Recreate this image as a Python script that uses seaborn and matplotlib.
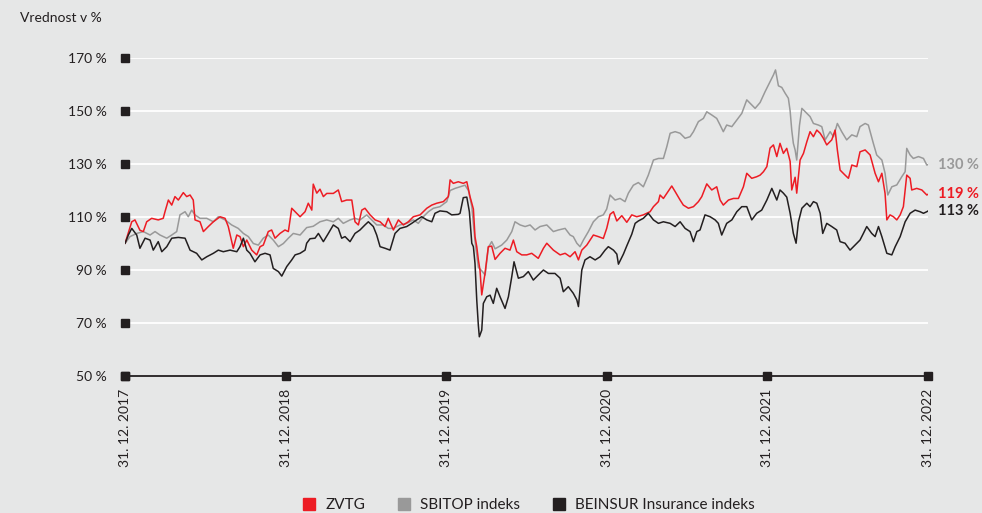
import numpy as np
import pandas as pd
import matplotlib
matplotlib.use("Agg")
import matplotlib.pyplot as plt
from matplotlib.lines import Line2D
import seaborn as sns

# time in years after 31. 12. 2017, values in %
t_zvtg = [0.000, 0.042, 0.062, 0.093, 0.114, 0.135, 0.166, 0.207, 0.238, 0.249, 0.270, 0.291, 0.311, 0.332,
          0.363, 0.384, 0.405, 0.425, 0.436, 0.467, 0.488, 0.519, 0.550, 0.592, 0.623, 0.643, 0.674, 0.696,
          0.716, 0.737, 0.758, 0.789, 0.820, 0.841, 0.861, 0.892, 0.913, 0.934, 0.965, 0.996, 1.017, 1.038,
          1.069, 1.090, 1.121, 1.141, 1.163, 1.172, 1.194, 1.214, 1.235, 1.256, 1.297, 1.328, 1.349, 1.380,
          1.412, 1.432, 1.453, 1.474, 1.494, 1.526, 1.557, 1.588, 1.619, 1.639, 1.671, 1.702, 1.733, 1.764,
          1.795, 1.837, 1.879, 1.910, 1.941, 1.982, 2.013, 2.024, 2.044, 2.075, 2.106, 2.128, 2.148, 2.169,
          2.179, 2.190, 2.200, 2.210, 2.221, 2.242, 2.262, 2.283, 2.304, 2.335, 2.366, 2.397, 2.418, 2.439,
          2.470, 2.501, 2.532, 2.573, 2.605, 2.626, 2.667, 2.709, 2.740, 2.771, 2.802, 2.823, 2.844, 2.875,
          2.916, 2.947, 2.978, 2.999, 3.020, 3.041, 3.062, 3.093, 3.124, 3.155, 3.186, 3.227, 3.269, 3.290,
          3.321, 3.331, 3.352, 3.373, 3.404, 3.425, 3.456, 3.476, 3.508, 3.539, 3.570, 3.591, 3.622, 3.653,
          3.684, 3.705, 3.725, 3.757, 3.788, 3.819, 3.850, 3.871, 3.902, 3.933, 3.954, 3.975, 3.996, 4.016,
          4.037, 4.058, 4.078, 4.099, 4.120, 4.141, 4.151, 4.172, 4.182, 4.203, 4.224, 4.245, 4.265, 4.286,
          4.307, 4.328, 4.348, 4.369, 4.400, 4.421, 4.435, 4.452, 4.483, 4.504, 4.525, 4.556, 4.576, 4.608,
          4.639, 4.670, 4.691, 4.712, 4.732, 4.743, 4.763, 4.784, 4.805, 4.826, 4.846, 4.867, 4.888, 4.898,
          4.929, 4.961, 4.992, 5.000]
v_zvtg = [100, 108.2, 108.9, 105, 104.5, 108.2, 109.5, 108.9, 109.5, 112, 116.4, 114.5, 117.7, 116.4,
          119.2, 117.7, 118.3, 116.4, 108.9, 108.2, 104.5, 106.4, 108.2, 110.1, 109.5, 106.4, 98.2, 103.2,
          102.6, 98.8, 101.3, 97.5, 95.7, 98.8, 99.4, 104.5, 105.1, 102, 103.8, 105.1, 104.5, 113.3,
          111.4, 110.1, 112, 115.2, 112.6, 122.4, 119, 120.5, 117.7, 118.9, 118.9, 120.2, 115.8, 116.4,
          116.4, 108.2, 107, 112.6, 113.3, 110.8, 108.9, 108.2, 106.4, 109.5, 105.1, 108.9, 107, 108.2,
          110.1, 110.8, 113.3, 114.5, 115.2, 115.8, 117.7, 124, 122.7, 123.3, 122.7, 123.3, 117.7, 113,
          102.6, 98.8, 93.8, 90, 80.6, 89, 98.8, 99, 94, 96.3, 98.2, 97.5, 101.3, 96.9,
          95.7, 95.7, 96.3, 94.4, 98.2, 100.1, 97.5, 95.7, 96.3, 95, 96.9, 93.8, 97.5, 99.4,
          103.2, 102.6, 101.9, 105.7, 111, 112, 108.5, 110.5, 108, 110.8, 110.1, 110.8, 112, 113.9,
          115.8, 118.3, 117, 118.9, 121.7, 119.6, 116.4, 114.5, 113.3, 113.9, 115.8, 117.7, 122.5, 120.2,
          121.4, 116.4, 114.5, 116.4, 117, 117, 121.4, 126.5, 124.6, 125.2, 125.8, 127.1, 129, 136,
          137.2, 132.8, 137.8, 134, 135.9, 131, 120.2, 125, 119, 131.5, 134, 138.4, 142.2, 140.3,
          142.8, 141.6, 139.7, 137.2, 139.1, 142.8, 135.3, 127.7, 125.8, 124.6, 129.6, 129, 134.6, 135.3,
          133.4, 126.5, 123.3, 126.5, 118.9, 108.9, 110.8, 110.1, 108.9, 110.8, 113.9, 125.8, 124.6, 120.2,
          120.8, 120.2, 118.3, 118.6]

t_sbitop = [0.000, 0.031, 0.073, 0.114, 0.156, 0.187, 0.218, 0.260, 0.291, 0.322, 0.342, 0.374, 0.394, 0.415,
            0.436, 0.467, 0.509, 0.550, 0.581, 0.623, 0.664, 0.705, 0.737, 0.768, 0.799, 0.830, 0.861, 0.892,
            0.923, 0.955, 0.986, 1.017, 1.048, 1.090, 1.131, 1.172, 1.214, 1.256, 1.297, 1.328, 1.359, 1.401,
            1.432, 1.463, 1.505, 1.536, 1.567, 1.608, 1.639, 1.671, 1.712, 1.754, 1.795, 1.826, 1.857, 1.889,
            1.920, 1.961, 2.003, 2.024, 2.055, 2.086, 2.117, 2.138, 2.159, 2.179, 2.200, 2.221, 2.242, 2.262,
            2.283, 2.304, 2.345, 2.377, 2.408, 2.428, 2.460, 2.491, 2.522, 2.553, 2.584, 2.626, 2.667, 2.698,
            2.740, 2.771, 2.791, 2.813, 2.833, 2.854, 2.885, 2.916, 2.947, 2.978, 2.999, 3.020, 3.051, 3.082,
            3.113, 3.134, 3.165, 3.196, 3.227, 3.258, 3.290, 3.321, 3.352, 3.373, 3.394, 3.425, 3.456, 3.487,
            3.518, 3.539, 3.570, 3.601, 3.622, 3.653, 3.684, 3.705, 3.725, 3.746, 3.778, 3.809, 3.840, 3.871,
            3.902, 3.923, 3.954, 3.985, 4.016, 4.037, 4.050, 4.068, 4.089, 4.110, 4.130, 4.141, 4.151, 4.161,
            4.172, 4.182, 4.199, 4.214, 4.245, 4.265, 4.286, 4.317, 4.338, 4.359, 4.390, 4.411, 4.435, 4.462,
            4.493, 4.525, 4.556, 4.576, 4.608, 4.628, 4.659, 4.680, 4.712, 4.732, 4.749, 4.774, 4.805, 4.836,
            4.857, 4.867, 4.888, 4.908, 4.940, 4.971, 4.992, 5.000]
v_sbitop = [100, 102.6, 103.8, 104.5, 103.2, 104.5, 103.2, 102, 103.2, 104.5, 110.8, 112, 110.1, 112.6,
            110.8, 109.5, 109.5, 108.2, 110.1, 108.9, 107, 105.7, 103.8, 102.6, 100, 99.4, 102, 103.2,
            101.3, 98.8, 100, 102, 103.8, 103.2, 106, 106.5, 108.2, 108.9, 108.2, 109.5, 107.6, 108.9,
            109.5, 108.9, 110.8, 108.9, 107, 107, 105.7, 105.7, 107, 107.6, 108.9, 107.6, 110.1, 112,
            113.3, 113.9, 115.8, 120, 120.8, 121.4, 122, 120, 114, 101, 91, 89.7, 88.1, 98.5,
            100.7, 98, 99.4, 101.3, 104.5, 108.2, 107, 106.4, 107, 105.1, 106.4, 107, 104.5, 105.1,
            105.7, 103.2, 102.6, 100.1, 98.8, 101.3, 104.5, 108.2, 110.1, 110.8, 113, 118.3, 116.4, 117,
            115.8, 119, 122, 123, 121.4, 125.8, 131.5, 132.1, 132.1, 136.5, 141.6, 142.2, 141.6, 139.7,
            140.3, 142.2, 146, 147.2, 149.7, 148.5, 147.2, 144.7, 142.2, 144.7, 144.1, 146.6, 149.1, 154.2,
            152.3, 151, 153.2, 157.3, 161.1, 163.6, 165.5, 159.5, 158.9, 156.7, 154.8, 150, 142.8, 137.8,
            135.3, 131.5, 144.5, 151, 149.1, 147.9, 145.3, 144.7, 144.1, 139.1, 142.2, 140.3, 145.3, 142.2,
            139.1, 141, 140.3, 144.1, 145.3, 144.7, 137.8, 133.4, 131.5, 126.5, 118.3, 121.4, 122.1, 125.2,
            127.1, 135.9, 133.4, 132.1, 132.8, 132.1, 129.6, 129.8]

t_beinsur = [0.000, 0.021, 0.042, 0.073, 0.093, 0.125, 0.156, 0.176, 0.207, 0.229, 0.260, 0.291, 0.332, 0.374,
             0.405, 0.446, 0.478, 0.509, 0.550, 0.581, 0.612, 0.654, 0.696, 0.716, 0.737, 0.758, 0.778, 0.809,
             0.841, 0.872, 0.903, 0.923, 0.955, 0.976, 1.007, 1.038, 1.059, 1.090, 1.121, 1.131, 1.152, 1.183,
             1.204, 1.235, 1.266, 1.297, 1.328, 1.349, 1.370, 1.401, 1.432, 1.463, 1.494, 1.515, 1.546, 1.567,
             1.588, 1.619, 1.650, 1.681, 1.712, 1.754, 1.785, 1.816, 1.847, 1.879, 1.910, 1.930, 1.961, 2.003,
             2.034, 2.075, 2.086, 2.106, 2.128, 2.144, 2.159, 2.169, 2.179, 2.190, 2.200, 2.206, 2.221, 2.231,
             2.252, 2.273, 2.293, 2.314, 2.335, 2.366, 2.387, 2.408, 2.422, 2.449, 2.480, 2.511, 2.542, 2.573,
             2.605, 2.636, 2.677, 2.709, 2.729, 2.760, 2.791, 2.813, 2.823, 2.844, 2.864, 2.895, 2.927, 2.958,
             2.989, 3.009, 3.041, 3.062, 3.072, 3.103, 3.124, 3.155, 3.176, 3.196, 3.227, 3.258, 3.290, 3.321,
             3.352, 3.394, 3.425, 3.456, 3.487, 3.518, 3.539, 3.560, 3.580, 3.611, 3.643, 3.674, 3.694, 3.715,
             3.746, 3.778, 3.809, 3.840, 3.871, 3.902, 3.933, 3.964, 3.996, 4.027, 4.058, 4.078, 4.099, 4.120,
             4.141, 4.161, 4.178, 4.192, 4.214, 4.245, 4.265, 4.286, 4.307, 4.328, 4.344, 4.369, 4.400, 4.431,
             4.452, 4.483, 4.514, 4.545, 4.576, 4.597, 4.618, 4.649, 4.670, 4.691, 4.712, 4.743, 4.774, 4.795,
             4.826, 4.857, 4.888, 4.919, 4.950, 4.971, 4.992, 5.000]
v_beinsur = [100, 103.2, 105.7, 103.2, 98.2, 102, 101.3, 97.5, 100.7, 96.9, 98.8, 102, 102.3, 102,
             97.5, 96.3, 93.8, 95, 96.3, 97.5, 96.9, 97.5, 96.9, 98.8, 102, 97.5, 96.3, 93.1,
             95.7, 96.3, 95.7, 90.6, 89.4, 87.7, 91.3, 93.8, 95.7, 96.3, 97.5, 100.1, 101.8, 102,
             103.8, 100.7, 103.8, 107, 105.7, 102, 102.6, 100.7, 103.8, 105.1, 107, 108.2, 106.4, 103.2,
             98.8, 98.2, 97.5, 103.8, 105.7, 106.4, 107.6, 108.9, 110.1, 108.9, 108.2, 111.4, 112.3, 112,
             110.8, 111, 111.4, 117.3, 117.5, 112, 100.1, 98.8, 92.5, 78.6, 69, 64.8, 67.3, 77.4,
             79.9, 80.5, 77.4, 83.1, 79.9, 75.5, 79.9, 87.5, 93.1, 86.9, 87.5, 89.4, 86.2, 88.1,
             90, 88.7, 88.7, 86.9, 81.8, 83.7, 81.2, 78.7, 76.2, 90, 93.8, 95, 93.8, 95,
             97.5, 98.8, 97.5, 96, 92.2, 96, 99.1, 103.5, 107.6, 108.5, 109.5, 111.4, 108.9, 107.6,
             108.2, 107.6, 106.4, 108.2, 105.7, 104.5, 100.7, 104.5, 105.1, 110.8, 110.1, 108.9, 107.6, 103.2,
             107.6, 108.9, 112, 113.9, 113.9, 108.9, 111.4, 112.6, 116.4, 120.8, 116.4, 120.2, 119, 117.5,
             111.4, 103.8, 100.1, 108, 113.3, 115.2, 113.9, 115.8, 115.2, 111.4, 103.8, 107.6, 106.4, 105.1,
             100.7, 100.1, 97.5, 99.4, 101.3, 103.8, 106.4, 103.8, 102.6, 106.4, 102.6, 96.3, 95.7, 98.8,
             102.6, 108.2, 111.4, 112.6, 112, 111.4, 112, 112.3]

series_names = ["ZVTG", "SBITOP indeks", "BEINSUR Insurance indeks"]
end_labels = ["119 %", "130 %", "113 %"]
y_ticks = [50, 70, 90, 110, 130, 150, 170]
x_tick_dates = ["2017-12-31", "2018-12-31", "2019-12-31", "2020-12-31", "2021-12-31", "2022-12-31"]
x_tick_labels = ["31. 12. 2017", "31. 12. 2018", "31. 12. 2019", "31. 12. 2020", "31. 12. 2021", "31. 12. 2022"]

colors = {"ZVTG": "#ed1c24", "SBITOP indeks": "#999999", "BEINSUR Insurance indeks": "#231f20"}
bg = "#e6e7e7"
dark = "#231f20"

start = pd.Timestamp("2017-12-31")
frames = []
for name, t, v in zip(series_names, [t_zvtg, t_sbitop, t_beinsur], [v_zvtg, v_sbitop, v_beinsur]):
    d = start + pd.to_timedelta(np.array(t) * 365.25, unit="D")
    frames.append(pd.DataFrame({"date": d, "value": v, "series": name}))
df = pd.concat(frames, ignore_index=True)

sns.set_theme(style="white")
plt.rcParams["font.family"] = ["Lato", "DejaVu Sans"]

fig = plt.figure(figsize=(9.82, 5.13), dpi=100, facecolor=bg)
ax = fig.add_axes([125 / 982, 1 - 376 / 513, (928 - 125) / 982, (376 - 58) / 513])
ax.set_facecolor(bg)

# white gridlines
for y in y_ticks[1:]:
    ax.axhline(y, color="white", lw=1.3, zorder=0, xmin=0.006)

sns.lineplot(data=df, x="date", y="value", hue="series",
             hue_order=["SBITOP indeks", "ZVTG", "BEINSUR Insurance indeks"],
             palette=colors, estimator=None, legend=False, lw=1.1, ax=ax)

x0 = start
x1 = pd.Timestamp("2022-12-31")
ax.set_xlim(x0, x1)
ax.set_ylim(50, 170)

for s in ["top", "right", "left"]:
    ax.spines[s].set_visible(False)
ax.spines["bottom"].set_color(dark)
ax.spines["bottom"].set_linewidth(1.3)

ax.set_yticks(y_ticks)
ax.set_yticklabels([f"{y} %" for y in y_ticks], fontsize=10, color=dark)
ax.set_xticks(pd.to_datetime(x_tick_dates))
ax.set_xticklabels(x_tick_labels, rotation=90, fontsize=10, color=dark)
ax.tick_params(axis="y", length=0, pad=13)
ax.tick_params(axis="x", length=0, pad=9)
ax.set_xlabel("")
ax.set_ylabel("")

# square tick markers
ax.plot([x0] * len(y_ticks), y_ticks, "s", color=dark, ms=5.5, clip_on=False, zorder=5)
ax.plot(pd.to_datetime(x_tick_dates), [50] * len(x_tick_dates), "s", color=dark, ms=5.5, clip_on=False, zorder=5)

# end labels
for name, t, v, lab in zip(series_names, [t_zvtg, t_sbitop, t_beinsur], [v_zvtg, v_sbitop, v_beinsur], end_labels):
    ax.annotate(lab, xy=(x1, v[-1]), xytext=(7, 0), textcoords="offset points",
                va="center", ha="left", fontsize=10.5, fontweight="bold",
                color=colors[name], annotation_clip=False)

fig.text(20 / 982, 1 - 18 / 513, "Vrednost v %", fontsize=10, color=dark, va="center", ha="left")

handles = [Line2D([], [], marker="s", ls="", ms=9, color=colors[n]) for n in series_names]
fig.legend(handles, series_names, loc="center", bbox_to_anchor=(0.534, 1 - 505 / 513), ncol=3,
           frameon=False, fontsize=11, handletextpad=0.1, columnspacing=1.5, labelcolor=dark)

fig.savefig("out.png", dpi=100, facecolor=bg)
